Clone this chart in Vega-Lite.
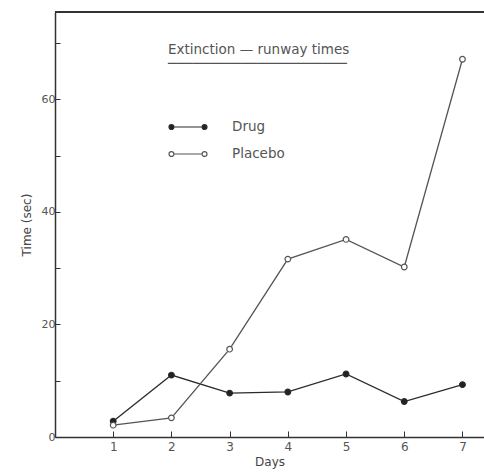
{
  "$schema": "https://vega.github.io/schema/vega-lite/v6.json",
  "autosize": {"type": "none"},
  "padding": {"left": 55, "top": 12, "right": 0, "bottom": 38},
  "width": 429,
  "height": 425,
  "background": "white",
  "config": {
    "view": {"stroke": null},
    "font": "DejaVu Sans",
    "axis": {"grid": false, "domainColor": "#333", "domainWidth": 1.5, "tickColor": "#333", "tickWidth": 1, "labelColor": "#555", "titleColor": "#444", "labelFontSize": 11, "titleFontSize": 12, "titleFontWeight": "normal", "labelFont": "DejaVu Sans", "titleFont": "DejaVu Sans"}
  },
  "data": {
    "values": [
      {"day": 1, "time": 2.8, "group": "Drug"},
      {"day": 2, "time": 11.0, "group": "Drug"},
      {"day": 3, "time": 7.8, "group": "Drug"},
      {"day": 4, "time": 8.0, "group": "Drug"},
      {"day": 5, "time": 11.2, "group": "Drug"},
      {"day": 6, "time": 6.3, "group": "Drug"},
      {"day": 7, "time": 9.3, "group": "Drug"},
      {"day": 1, "time": 2.1, "group": "Placebo"},
      {"day": 2, "time": 3.4, "group": "Placebo"},
      {"day": 3, "time": 15.6, "group": "Placebo"},
      {"day": 4, "time": 31.6, "group": "Placebo"},
      {"day": 5, "time": 35.1, "group": "Placebo"},
      {"day": 6, "time": 30.2, "group": "Placebo"},
      {"day": 7, "time": 67.1, "group": "Placebo"}
    ]
  },
  "encoding": {
    "x": {"field": "day", "type": "quantitative", "scale": {"domain": [0, 7.37], "nice": false},
      "axis": {"values": [1, 2, 3, 4, 5, 6, 7], "tickSize": -6, "labelPadding": 10, "title": "Days", "titlePadding": 4, "labelFontSize": 12}},
    "y": {"field": "time", "type": "quantitative", "scale": {"domain": [0, 75.5], "nice": false},
      "axis": {"values": [0, 10, 20, 30, 40, 50, 60, 70], "labelExpr": "datum.value % 20 === 0 ? datum.label : ''", "tickSize": -5, "labelPadding": 5, "title": "Time (sec)", "titlePadding": 8}}
  },
  "layer": [
    {
      "mark": {"type": "rule", "color": "#333", "strokeWidth": 1.5},
      "encoding": {"y": {"datum": 75.5}, "x": null}
    },
    {
      "mark": {"type": "line", "strokeWidth": 1.3},
      "encoding": {
        "stroke": {"field": "group", "type": "nominal", "scale": {"domain": ["Drug", "Placebo"], "range": ["#2a2a2a", "#555555"]},
          "legend": {
            "orient": "none", "legendX": 113, "legendY": 31,
            "title": ["Extinction — runway times", "──────────────────────"],
            "titleFontSize": 13.5, "titleFontWeight": "normal", "titleColor": "#555", "titleLineHeight": 13.5, "titlePadding": 37, "titleLimit": 400,
            "labelFontSize": 13.5, "labelColor": "#555", "labelOffset": 24,
            "symbolType": "M-1,0A0.13,0.13 0 1,0 -0.74,0A0.13,0.13 0 1,0 -1,0Z M0.74,0A0.13,0.13 0 1,0 1,0A0.13,0.13 0 1,0 0.74,0Z M-0.74,0L0.74,0",
            "symbolSize": 1444, "symbolStrokeWidth": 1.2, "rowPadding": -10
          }}
      }
    },
    {
      "mark": {"type": "point", "shape": "circle", "size": 32, "strokeWidth": 1.2, "opacity": 1, "filled": false},
      "encoding": {
        "stroke": {"field": "group", "type": "nominal"},
        "fill": {"field": "group", "type": "nominal", "scale": {"domain": ["Drug", "Placebo"], "range": ["#222222", "#ffffff"]}}
      }
    }
  ]
}
